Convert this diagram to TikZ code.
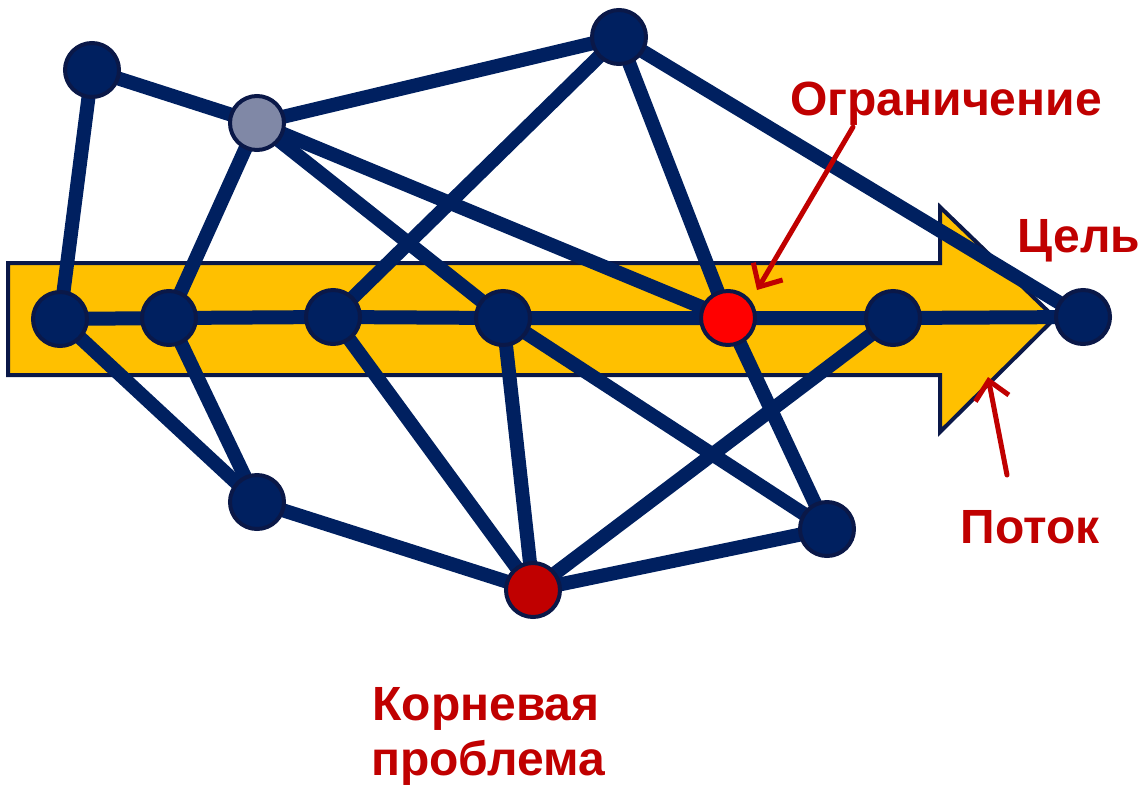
\documentclass[tikz,border=0pt]{standalone}
\usepackage{fontspec}
\setmainfont{Liberation Sans}
\usetikzlibrary{arrows.meta,backgrounds}

\definecolor{navy}{RGB}{0,32,96}
\definecolor{navyrim}{RGB}{10,24,72}
\definecolor{flowyellow}{RGB}{255,192,0}
\definecolor{tagred}{RGB}{192,0,0}
\definecolor{limitred}{RGB}{255,0,0}
\definecolor{hubgray}{RGB}{128,136,166}

\begin{document}
\begin{tikzpicture}[x=1pt,y=-1pt,
    vertex/.style={circle, fill=navy, draw=navyrim, line width=4pt,
                   minimum size=54pt, inner sep=0pt},
    link/.style={navy, line width=14pt},
    tag/.style={text=tagred, inner sep=0pt,
                font=\fontsize{48}{53}\selectfont\bfseries},
    pointer/.style={tagred, line width=5pt, line cap=round,
                    -{Straight Barb[length=18pt,width=34pt]}}]

    \useasboundingbox (0,0) rectangle (1142,785);

    % --- 1. Узлы сети ---
    \node[vertex] (a) at (92,70) {};
    \node[vertex, fill=hubgray] (b) at (257,123) {};
    \node[vertex] (c) at (619,37) {};
    \node[vertex] (d) at (60,319) {};
    \node[vertex] (e) at (169,318) {};
    \node[vertex] (f) at (333,317) {};
    \node[vertex] (g) at (503,318) {};
    \node[vertex, fill=limitred] (h) at (728,318) {};
    \node[vertex] (i) at (893,318) {};
    \node[vertex] (j) at (1083,317) {};
    \node[vertex] (k) at (257,502) {};
    \node[vertex, fill=tagred] (l) at (533,590) {};
    \node[vertex] (m) at (827,529) {};

    \begin{pgfonlayer}{background}
    % --- 2. Стрелка потока ---
    \fill[flowyellow, draw=navyrim, line width=4pt]
        (8,263) -- (940,263) -- (940,207) -- (1055,318)
        -- (940,432) -- (940,375) -- (8,375) -- cycle;

    % --- 3. Связи (под узлами) ---
    \draw[link] (d.center) -- (e.center) -- (f.center) -- (g.center)
        -- (h.center) -- (i.center) -- (j.center);
    \draw[link] (a.center) -- (b.center);
    \draw[link] (a.center) -- (d.center);
    \draw[link] (b.center) -- (c.center);
    \draw[link] (b.center) -- (e.center);
    \draw[link] (b.center) -- (g.center);
    \draw[link] (b.center) -- (h.center);
    \draw[link] (c.center) -- (f.center);
    \draw[link] (c.center) -- (h.center);
    \draw[link] (c.center) -- (j.center);
    \draw[link] (d.center) -- (k.center);
    \draw[link] (e.center) -- (k.center);
    \draw[link] (k.center) -- (l.center);
    \draw[link] (f.center) -- (l.center);
    \draw[link] (g.center) -- (l.center);
    \draw[link] (g.center) -- (m.center);
    \draw[link] (h.center) -- (m.center);
    \draw[link] (i.center) -- (l.center);
    \draw[link] (l.center) -- (m.center);
    \end{pgfonlayer}

    % --- 4. Подписи и указатели ---
    \node[tag, anchor=base] (limit) at (946,115) {Ограничение};
    \node[tag, anchor=base] (goal) at (1079,252) {Цель};
    \node[tag, anchor=base] (flow) at (1030,543) {Поток};
    \node[tag, anchor=base] (root) at (486,720) {Корневая};
    \node[tag, anchor=base] (root2) at (488,775) {проблема};

    \coordinate (limittip) at (757,290);
    \coordinate (flowtip) at (988,377);
    \draw[pointer] (853,127) -- (limittip);
    \draw[pointer] (1007,475) -- (flowtip);

\end{tikzpicture}
\end{document}
